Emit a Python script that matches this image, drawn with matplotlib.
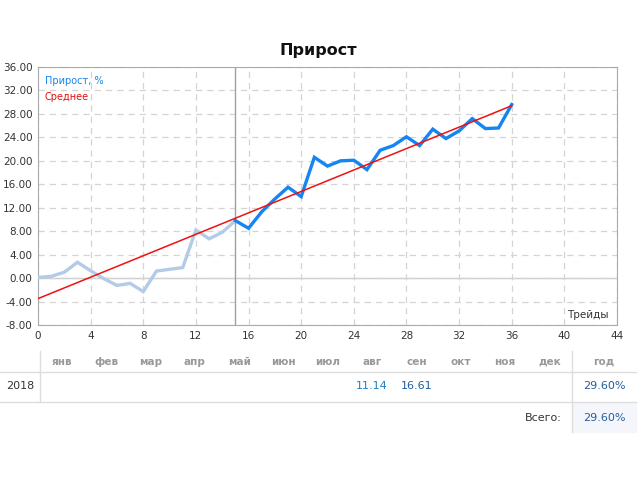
import numpy as np
import matplotlib.pyplot as plt

# ---- data ----
trades = list(range(37))
growth = [0.1, 0.3, 1.0, 2.7, 1.25, -0.1, -1.25, -0.9, -2.3, 1.2, 1.5, 1.8,
          8.2, 6.7, 7.8, 9.8, 8.5, 11.3, 13.5, 15.5, 13.9, 20.6, 19.1, 20.0,
          20.1, 18.5, 21.8, 22.6, 24.1, 22.6, 25.4, 23.8, 25.1, 27.2, 25.5,
          25.6, 29.6]
split_at = 15
trend_start, trend_end = -3.5, 29.4

months = ["янв", "фев", "мар", "апр", "май", "июн", "июл", "авг", "сен",
          "окт", "ноя", "дек"]
year_label = "2018"
month_values = {7: "11.14", 8: "16.61"}
year_total = "29.60%"
grand_total = "29.60%"

W, H = 640, 480
fig = plt.figure(figsize=(W / 100, H / 100), dpi=100)
fig.patch.set_facecolor("white")


def fx(px):
    return px / W


def fy(py):
    return 1 - py / H


ax = fig.add_axes([fx(38), fy(325), fx(617) - fx(38), fy(67) - fy(325)])

x = np.array(trades)
y = np.array(growth)
ax.plot(x[:split_at + 1], y[:split_at + 1], color="#b3cbe6", lw=2.4,
        solid_joinstyle="miter", zorder=3)
ax.plot(x[split_at:], y[split_at:], color="#1485f2", lw=2.4,
        solid_joinstyle="miter", zorder=4)
ax.plot([x[0], x[-1]], [trend_start, trend_end], color="#f01010", lw=1.1,
        zorder=5)

ax.axvline(split_at, color="#a0a0a0", lw=1, zorder=2)
ax.axhline(0, color="#cccccc", lw=1, zorder=1)

ax.set_xlim(0, 44)
ax.set_ylim(-8, 36)
ax.set_xticks(range(0, 45, 4))
ax.set_yticks(range(-8, 37, 4))
ax.set_yticklabels([f"{v:.2f}" for v in range(-8, 37, 4)])
ax.grid(True, color="#d4d4d4", ls=(0, (5, 4)), lw=0.9)
ax.tick_params(length=0, labelsize=7.5, colors="#333333", pad=4)
for s in ax.spines.values():
    s.set_color("#aaaaaa")

ax.text(0.012, 0.965, "Прирост, %", color="#1485f2", fontsize=7,
        transform=ax.transAxes, va="top")
ax.text(0.012, 0.905, "Среднее", color="#e01010", fontsize=7,
        transform=ax.transAxes, va="top")
ax.text(0.985, 0.02, "Трейды", color="#333333", fontsize=7.5,
        transform=ax.transAxes, ha="right", va="bottom")

fig.text(fx(318), fy(50), "Прирост", fontsize=11.5, fontweight="bold",
         ha="center", va="center", color="#111111")

# ---- table below the chart ----
line_kw = dict(color="#dddddd", lw=1, transform=fig.transFigure)
fig.add_artist(plt.Line2D([fx(0), fx(636)], [fy(372), fy(372)], **line_kw))
fig.add_artist(plt.Line2D([fx(0), fx(636)], [fy(402), fy(402)], **line_kw))
fig.add_artist(plt.Line2D([fx(40), fx(40)], [fy(351), fy(402)], **line_kw))
fig.add_artist(plt.Line2D([fx(572), fx(572)], [fy(351), fy(432)], **line_kw))
fig.add_artist(plt.Rectangle((fx(573), fy(432)), fx(636) - fx(573),
                             fy(403) - fy(432), color="#f4f6fb",
                             transform=fig.transFigure, zorder=0))

for i, m in enumerate(months):
    cx = 62 + 44.3 * i
    fig.text(fx(cx), fy(362), m, color="#999999", fontsize=7.5,
             fontweight="bold", ha="center", va="center")
    if i in month_values:
        fig.text(fx(cx), fy(386), month_values[i],
                 color="#1a7fc4" if i == 7 else "#1f5f9f", fontsize=8,
                 ha="center", va="center")
fig.text(fx(604), fy(362), "год", color="#999999", fontsize=7.5,
         fontweight="bold", ha="center", va="center")
fig.text(fx(20), fy(386), year_label, color="#333333", fontsize=8,
         ha="center", va="center")
fig.text(fx(604), fy(386), year_total, color="#1f5f9f", fontsize=8,
         ha="center", va="center")
fig.text(fx(562), fy(418), "Всего:", color="#333333", fontsize=8,
         ha="right", va="center")
fig.text(fx(604), fy(418), grand_total, color="#1f5f9f", fontsize=8,
         ha="center", va="center")

fig.savefig("out.png", dpi=100)
